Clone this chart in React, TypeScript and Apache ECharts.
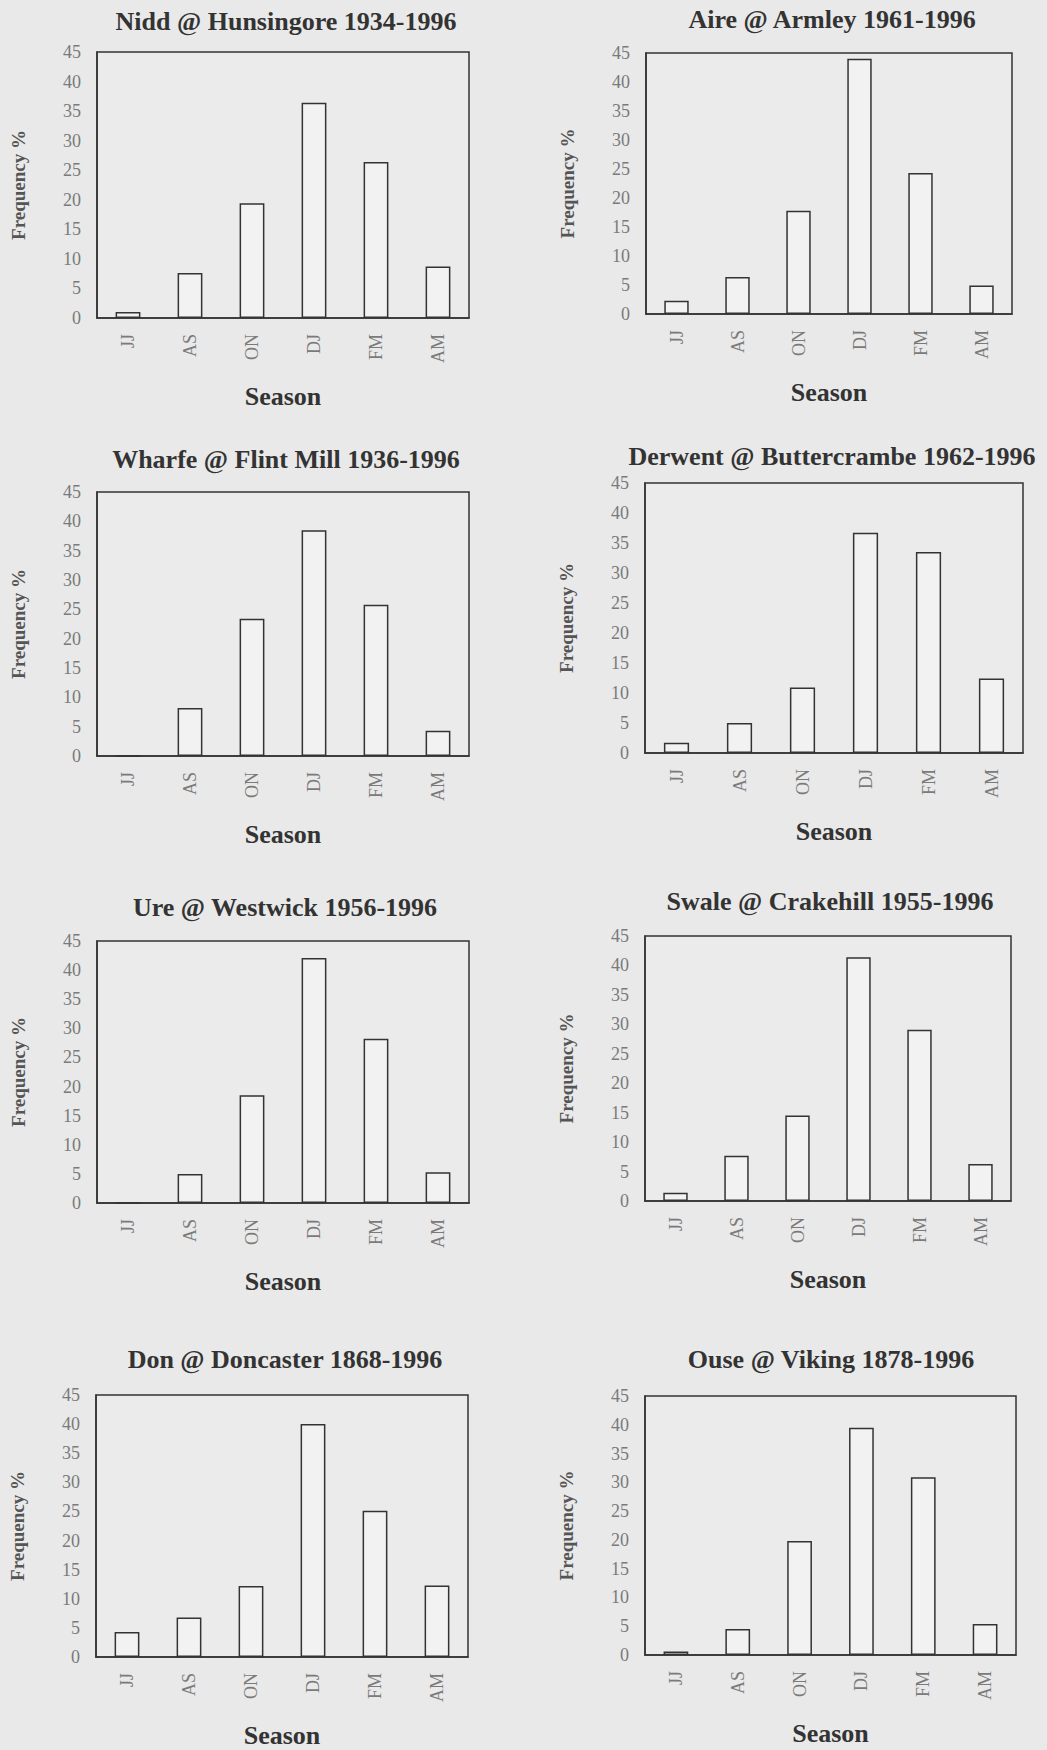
import React, { useEffect, useRef } from "react";
import * as echarts from "echarts";

// Seasonal frequency (%) of annual maximum floods, by gauging station
const seasons = ["JJ", "AS", "ON", "DJ", "FM", "AM"];
const yTicks = [0, 5, 10, 15, 20, 25, 30, 35, 40, 45];

const titles = [
  "Nidd @ Hunsingore 1934-1996",
  "Aire @ Armley 1961-1996",
  "Wharfe @ Flint Mill 1936-1996",
  "Derwent @ Buttercrambe 1962-1996",
  "Ure @ Westwick 1956-1996",
  "Swale @ Crakehill 1955-1996",
  "Don @ Doncaster 1868-1996",
  "Ouse @ Viking 1878-1996",
];

const nidd = [1.0, 7.6, 19.4, 36.4, 26.4, 8.7];
const aire = [2.3, 6.4, 17.8, 44.0, 24.3, 4.9];
const wharfe = [0, 8.2, 23.4, 38.5, 25.8, 4.3];
const derwent = [1.7, 5.0, 10.9, 36.7, 33.5, 12.4];
const ure = [0, 5.0, 18.5, 42.1, 28.2, 5.3];
const swale = [1.4, 7.7, 14.5, 41.4, 29.1, 6.3];
const don = [4.3, 6.8, 12.2, 40.0, 25.1, 12.3];
const ouse = [0.6, 4.5, 19.8, 39.5, 30.9, 5.4];

const stations = [nidd, aire, wharfe, derwent, ure, swale, don, ouse];

// Panel boxes: [left, top, width, height] and title anchor [centerX, top]
const panels = [
  { box: [97, 52, 372, 266], title: [281, 3] },
  { box: [646, 53, 366, 261], title: [827, 1] },
  { box: [97, 492, 372, 264], title: [281, 441] },
  { box: [645, 483, 378, 270], title: [827, 438] },
  { box: [97, 941, 372, 262], title: [280, 889] },
  { box: [645, 936, 366, 265], title: [825, 883] },
  { box: [96, 1395, 372, 262], title: [280, 1341] },
  { box: [645, 1396, 371, 259], title: [826, 1341] },
];

const SERIF = "'Liberation Serif', 'Times New Roman', serif";
const INK = "#333333";
const TICK = "#7a7a7a";
const BG = "#e9e9e9";

export default function App() {
  const ref = useRef<HTMLDivElement>(null);

  useEffect(() => {
    if (!ref.current) return;
    const chart = echarts.init(ref.current, null, { renderer: "svg" });

    const option: any = {
      animation: false,
      backgroundColor: BG,
      title: panels.map((p, i) => ({
        text: titles[i],
        left: p.title[0],
        top: p.title[1],
        textAlign: "center",
        textStyle: {
          fontFamily: SERIF,
          fontSize: 26,
          fontWeight: "bold",
          color: INK,
        },
      })),
      grid: panels.map((p) => ({
        left: p.box[0],
        top: p.box[1],
        width: p.box[2],
        height: p.box[3],
        show: true,
        borderColor: INK,
        borderWidth: 1.5,
        backgroundColor: "#ebebeb",
        containLabel: false,
      })),
      xAxis: panels.map((_, i) => ({
        type: "category",
        gridIndex: i,
        data: seasons,
        axisLine: { show: true, lineStyle: { color: INK, width: 1.5 } },
        axisTick: { show: false },
        axisLabel: {
          rotate: 90,
          margin: 16,
          fontFamily: SERIF,
          fontSize: 18,
          color: TICK,
        },
        name: "Season",
        nameLocation: "middle",
        nameGap: 65,
        nameTextStyle: {
          fontFamily: SERIF,
          fontSize: 26,
          fontWeight: "bold",
          color: INK,
        },
      })),
      yAxis: panels.map((_, i) => ({
        type: "value",
        gridIndex: i,
        min: yTicks[0],
        max: yTicks[yTicks.length - 1],
        interval: 5,
        axisLine: { show: true, lineStyle: { color: INK, width: 1.5 } },
        axisTick: { show: false },
        splitLine: { show: false },
        axisLabel: {
          margin: 16,
          fontFamily: SERIF,
          fontSize: 18,
          color: TICK,
        },
        name: "Frequency %",
        nameLocation: "middle",
        nameRotate: 90,
        nameGap: 69,
        nameTextStyle: {
          fontFamily: SERIF,
          fontSize: 19,
          fontWeight: "bold",
          color: "#555555",
        },
      })),
      series: stations.map((values, i) => ({
        type: "bar",
        xAxisIndex: i,
        yAxisIndex: i,
        data: values,
        barWidth: "40%",
        itemStyle: {
          color: "#f2f2f2",
          borderColor: INK,
          borderWidth: 1.5,
        },
      })),
    };

    chart.setOption(option);
    return () => chart.dispose();
  }, []);

  return (
    <div
      ref={ref}
      style={{
        position: "absolute",
        left: 0,
        top: 0,
        width: 1047,
        height: 1750,
        background: BG,
      }}
    />
  );
}
